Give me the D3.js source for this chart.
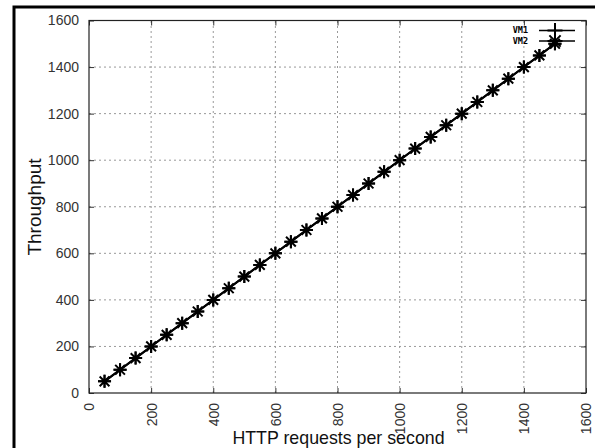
<!DOCTYPE html>
<html><head><meta charset="utf-8">
<script src="https://cdn.jsdelivr.net/npm/d3@7"></script>
<style>body{margin:0;background:#fff}svg{display:block}</style>
</head><body>
<svg id="c" width="595" height="448"></svg>
<script>
const requests = [50,100,150,200,250,300,350,400,450,500,550,600,650,700,750,800,850,900,950,1000,1050,1100,1150,1200,1250,1300,1350,1400,1450,1500];
const vm1 = [50,100,150,200,250,300,350,400,450,500,550,600,650,700,750,800,850,900,950,1000,1050,1100,1150,1200,1250,1300,1350,1400,1450,1500];
const vm2 = [50,100,150,200,250,300,350,400,450,500,550,600,650,700,750,800,850,900,950,1000,1050,1100,1150,1200,1250,1300,1350,1400,1450,1500];
const xTicks = [0,200,400,600,800,1000,1200,1400,1600];
const yTicks = [0,200,400,600,800,1000,1200,1400,1600];
const seriesNames = ["VM1","VM2"];

const svg = d3.select("#c");
const L=89, R=586, T=20.5, B=393;
const x = d3.scaleLinear().domain([0,1600]).range([L,R]);
const y = d3.scaleLinear().domain([0,1600]).range([B,T]);
const fmt = d3.format("d");

// outer frame
svg.append("rect").attr("x",14).attr("y",7).attr("width",620).attr("height",480)
  .attr("fill","none").attr("stroke","#000").attr("stroke-width",3);

// grid
const g = svg.append("g");
g.selectAll(".gx").data(xTicks.slice(1,-1)).join("line")
  .attr("x1",d=>x(d)).attr("x2",d=>x(d)).attr("y1",B).attr("y2",T)
  .attr("stroke","#999").attr("stroke-width",1).attr("stroke-dasharray","2,3");
g.selectAll(".gy").data(yTicks.slice(1,-1)).join("line")
  .attr("y1",d=>y(d)).attr("y2",d=>y(d)).attr("x1",L).attr("x2",R)
  .attr("stroke","#999").attr("stroke-width",1).attr("stroke-dasharray","2,3");

// axes
const font = "'Liberation Sans', Arial, sans-serif";
const ax = svg.append("g").attr("transform",`translate(0,${B})`)
  .call(d3.axisBottom(x).tickValues(xTicks).tickFormat(fmt).tickSize(-5).tickPadding(8));
ax.select(".domain").remove();
ax.selectAll(".tick line").attr("stroke","#333");
ax.selectAll(".tick text").attr("transform","rotate(-90)").attr("text-anchor","end")
  .attr("x",-10).attr("y",0).attr("dy","0.35em")
  .attr("font-family",font).attr("font-size",14).attr("fill","#333");
const axTop = svg.append("g").attr("transform",`translate(0,${T})`)
  .call(d3.axisTop(x).tickValues(xTicks).tickSize(-5).tickFormat(""));
axTop.select(".domain").remove();
axTop.selectAll(".tick line").attr("stroke","#333");

const ay = svg.append("g").attr("transform",`translate(${L},0)`)
  .call(d3.axisLeft(y).tickValues(yTicks).tickFormat(fmt).tickSize(-5).tickPadding(10));
ay.select(".domain").remove();
ay.selectAll(".tick line").attr("stroke","#333");
ay.selectAll(".tick text").attr("font-family",font).attr("font-size",14).attr("fill","#333");
const ayR = svg.append("g").attr("transform",`translate(${R},0)`)
  .call(d3.axisRight(y).tickValues(yTicks).tickSize(-5).tickFormat(""));
ayR.select(".domain").remove();
ayR.selectAll(".tick line").attr("stroke","#333");

svg.append("rect").attr("x",L).attr("y",T).attr("width",R-L).attr("height",B-T)
  .attr("fill","none").attr("stroke","#222").attr("stroke-width",1.2);

// titles
svg.append("text").attr("x",338.5).attr("y",444).attr("text-anchor","middle")
  .attr("font-family",font).attr("font-size",17.8).attr("fill","#111").text("HTTP requests per second");
svg.append("text").attr("transform",`translate(40.5,207) rotate(-90)`).attr("text-anchor","middle")
  .attr("font-family",font).attr("font-size",19).attr("fill","#111").text("Throughput");

// series
const line = d3.line().x((d,i)=>x(requests[i])).y(d=>y(d));
const s=6.5;
function plus(sel,h){ h=h||s; sel.append("path").attr("d",`M${-h},0H${h}M0,${-h}V${h}`); }
function star(sel,h){ h=h||s; sel.append("path").attr("d",`M${-h},0H${h}M0,${-h}V${h}M${-h*0.75},${-h*0.75}L${h*0.75},${h*0.75}M${-h*0.75},${h*0.75}L${h*0.75},${-h*0.75}`); }

[[vm1,plus],[vm2,star]].forEach(([vals,mk])=>{
  svg.append("path").datum(vals).attr("d",line).attr("fill","none").attr("stroke","#000").attr("stroke-width",2);
  svg.append("g").selectAll("g").data(vals).join("g")
    .attr("transform",(d,i)=>`translate(${x(requests[i])},${y(d)})`)
    .attr("stroke","#000").attr("stroke-width",2).attr("fill","none")
    .each(function(){ mk(d3.select(this)); });
});

// legend
const lg = svg.append("g");
seriesNames.forEach((n,i)=>{
  const ly = 30.5 + i*10.5;
  lg.append("text").attr("x",528).attr("y",ly).attr("dy","0.35em").attr("text-anchor","end")
    .attr("font-family","'DejaVu Sans Mono', monospace").attr("font-weight","bold").attr("font-size",8.5).text(n);
  lg.append("line").attr("x1",539).attr("x2",575).attr("y1",ly).attr("y2",ly).attr("stroke","#000").attr("stroke-width",1.5);
  const m = lg.append("g").attr("transform",`translate(555,${ly})`).attr("stroke","#000").attr("stroke-width",2).attr("fill","none");
  (i===0?plus:star)(m,7.5);
});
</script>
</body></html>
